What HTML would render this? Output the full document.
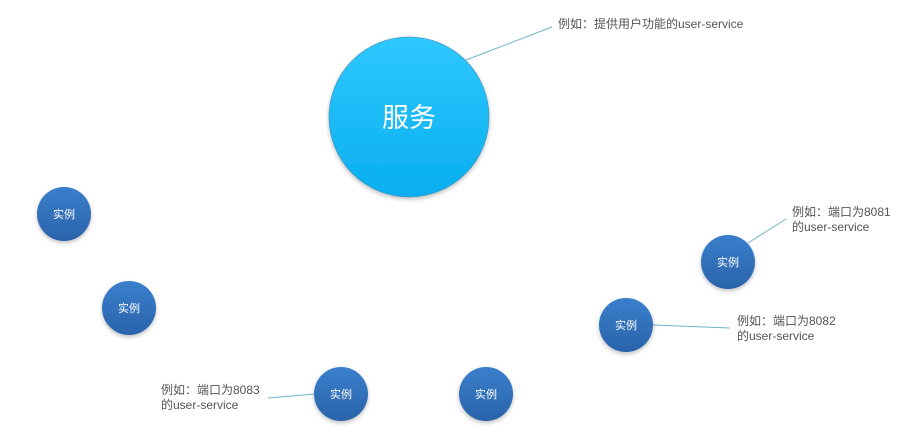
<!DOCTYPE html>
<html><head><meta charset="utf-8"><style>
html,body{margin:0;padding:0;background:#fff;width:916px;height:447px;overflow:hidden}
text{font-family:"Liberation Sans","Noto Sans CJK SC",sans-serif}
</style></head><body>
<svg width="916" height="447" viewBox="0 0 916 447">
<defs>
<linearGradient id="big" x1="0" y1="0" x2="0" y2="1"><stop offset="0" stop-color="#2ec8ff"/><stop offset="1" stop-color="#0aaef0"/></linearGradient>
<linearGradient id="sm" x1="0" y1="0" x2="0" y2="1"><stop offset="0" stop-color="#3a7fcc"/><stop offset="1" stop-color="#2a63aa"/></linearGradient>
<filter id="sh" x="-30%" y="-30%" width="160%" height="160%"><feDropShadow dx="0" dy="2" stdDeviation="2" flood-color="#000" flood-opacity="0.25"/></filter>
</defs>
<g stroke="#6fb3c9" stroke-width="1">
<line x1="466" y1="60" x2="552" y2="27"/>
<line x1="748" y1="243" x2="786" y2="219"/>
<line x1="653" y1="325" x2="730" y2="328"/>
<line x1="268" y1="398" x2="315" y2="394"/>
</g>
<g>
<circle cx="409" cy="117" r="80" fill="url(#big)" stroke="#4a9cc0" stroke-width="0.8" filter="url(#sh)"/>
<text x="409" y="127" font-size="27" fill="#fff" text-anchor="middle">服务</text>
</g>
<g font-size="11" fill="#fff">
<g><circle cx="64" cy="214" r="27" fill="url(#sm)" filter="url(#sh)"/><text x="64" y="218" text-anchor="middle" fill="#fff">实例</text></g>
<g><circle cx="129" cy="308" r="27" fill="url(#sm)" filter="url(#sh)"/><text x="129" y="312" text-anchor="middle" fill="#fff">实例</text></g>
<g><circle cx="728" cy="262" r="27" fill="url(#sm)" filter="url(#sh)"/><text x="728" y="266" text-anchor="middle" fill="#fff">实例</text></g>
<g><circle cx="626" cy="325" r="27" fill="url(#sm)" filter="url(#sh)"/><text x="626" y="329" text-anchor="middle" fill="#fff">实例</text></g>
<g><circle cx="341" cy="394" r="27" fill="url(#sm)" filter="url(#sh)"/><text x="341" y="398" text-anchor="middle" fill="#fff">实例</text></g>
<g><circle cx="486" cy="394" r="27" fill="url(#sm)" filter="url(#sh)"/><text x="486" y="398" text-anchor="middle" fill="#fff">实例</text></g>
</g>
<g font-size="12" fill="#555">
<text x="558" y="28">例如：提供用户功能的user-service</text>
<text x="792" y="216"><tspan x="792">例如：端口为8081</tspan><tspan x="792" dy="15">的user-service</tspan></text>
<text x="737" y="325"><tspan x="737">例如：端口为8082</tspan><tspan x="737" dy="15">的user-service</tspan></text>
<text x="161" y="394"><tspan x="161">例如：端口为8083</tspan><tspan x="161" dy="15">的user-service</tspan></text>
</g>
</svg>
</body></html>
